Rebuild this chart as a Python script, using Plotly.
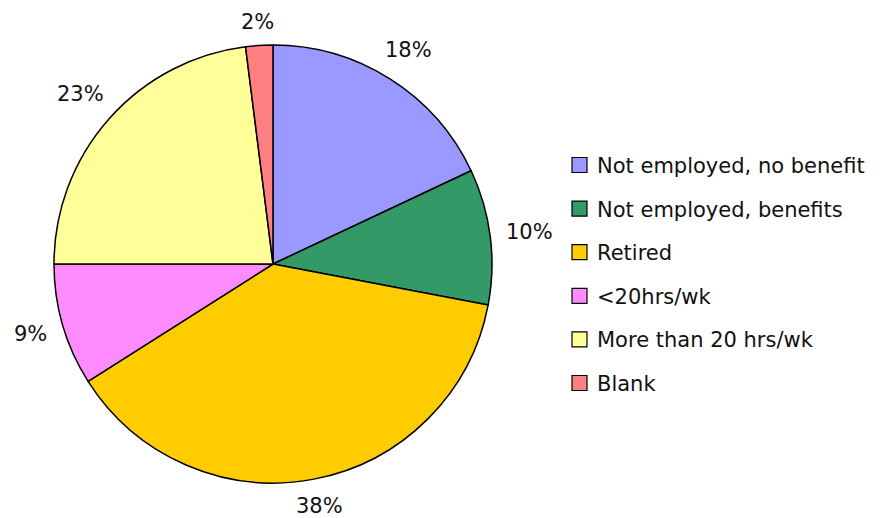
import math
import plotly.graph_objects as go

categories = [
    "Not employed, no benefit",
    "Not employed, benefits",
    "Retired",
    "<20hrs/wk",
    "More than 20 hrs/wk",
    "Blank",
]
shares = [18, 10, 38, 9, 23, 2]
colors = ["#9999FF", "#339966", "#FFCC00", "#FF8CFF", "#FFFF99", "#FF8080"]

W, H = 889, 518
FONT = "DejaVu Sans"
FS = 21
TXT = "#111111"

# pie geometry in pixels
CX, CY, R = 273, 264, 219

fig = go.Figure(
    go.Pie(
        labels=categories,
        values=shares,
        sort=False,
        direction="clockwise",
        rotation=0,
        marker=dict(colors=colors, line=dict(color="#000000", width=1.5)),
        textinfo="none",
        domain=dict(x=[(CX - R) / W, (CX + R) / W], y=[1 - (CY + R) / H, 1 - (CY - R) / H]),
        hoverinfo="label+percent",
        automargin=False,
        showlegend=False,
    )
)

annotations = []
shapes = []

# percentage labels placed outside each slice, along its mid-angle
total = sum(shares)
cum = 0
for v in shares:
    mid = (cum + v / 2) / total * 2 * math.pi
    cum += v
    label = f"{v}%"
    w = len(str(v)) * 0.636 * FS + 0.95 * FS
    h = 0.75 * FS
    s, c = math.sin(mid), math.cos(mid)
    d = R + 15 + abs(s) * w / 2 + abs(c) * h / 2
    px, py = CX + d * s, CY - d * c
    annotations.append(
        dict(
            x=px / W, y=1 - py / H, xref="paper", yref="paper",
            text=label, showarrow=False, xanchor="center", yanchor="middle",
            height=22, borderpad=0,
            font=dict(family=FONT, size=FS, color=TXT),
        )
    )

# legend: coloured squares with category names
LX, LY0, LSTEP, SQ = 572, 165, 43.6, 15
for i, (name, col) in enumerate(zip(categories, colors)):
    yc = LY0 + i * LSTEP
    shapes.append(
        dict(
            type="rect", xref="paper", yref="paper",
            x0=LX / W, x1=(LX + SQ) / W,
            y0=1 - (yc + SQ / 2) / H, y1=1 - (yc - SQ / 2) / H,
            fillcolor=col, line=dict(color="#000000", width=1.2),
        )
    )
    annotations.append(
        dict(
            x=(LX + 23) / W, y=1 - (yc + 1) / H, xref="paper", yref="paper",
            text=name.replace("<", "&lt;"), showarrow=False,
            xanchor="left", yanchor="middle",
            font=dict(family=FONT, size=FS, color=TXT),
        )
    )

fig.update_layout(
    width=W,
    height=H,
    margin=dict(l=0, r=0, t=0, b=0),
    paper_bgcolor="white",
    plot_bgcolor="white",
    annotations=annotations,
    shapes=shapes,
)

fig.write_html("out.html")
